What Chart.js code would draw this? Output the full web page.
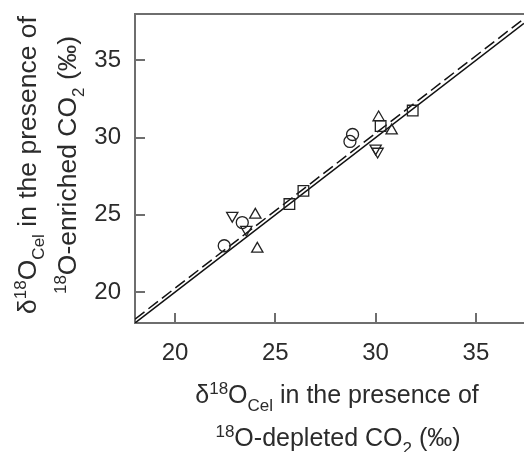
<!DOCTYPE html>
<html>
<head>
<meta charset="utf-8">
<script src="https://cdn.jsdelivr.net/npm/chart.js@4"></script>
<style>
    html, body { margin: 0; padding: 0; background: #fff; }
    canvas { display: block; }
</style>
</head>
<body>
<canvas id="grafica" width="524" height="452"></canvas>
<script>
// Datos (eje x: CO2 empobrecido, eje y: CO2 enriquecido)
const circulosX = [22.45, 23.35, 28.72, 28.85];
const circulosY = [23.0, 24.5, 29.75, 30.2];

const cuadradosX = [25.7, 26.4, 30.25, 31.85];
const cuadradosY = [25.7, 26.55, 30.75, 31.75];

const triangulosX = [24.0, 24.1, 30.15, 30.8];
const triangulosY = [25.0, 22.8, 31.3, 30.45];

const invertidosX = [22.85, 23.55, 30.0, 30.1];
const invertidosY = [24.95, 24.05, 29.3, 29.1];

// Recta 1:1 y recta ajustada
const rectaX = [18, 37.4];
const rectaUnoY = [18, 37.4];
const rectaAjusteY = [18.25, 37.7];

const ticksX = [20, 25, 30, 35];
const ticksY = [20, 25, 30, 35];

const FUENTE = "'Liberation Sans', Arial, Helvetica, sans-serif";
const TEXTO = "#2b2b2b";
const EJE = "#6e6e6e";

function puntos(xs, ys) {
    return xs.map((x, i) => ({ x: x, y: ys[i] }));
}

function serie(xs, ys, estilo, rotacion, radio) {
    return {
        type: "scatter",
        data: puntos(xs, ys),
        pointStyle: estilo,
        rotation: rotacion,
        pointRadius: radio,
        pointHoverRadius: radio,
        pointBorderColor: "#222",
        pointBackgroundColor: "rgba(0,0,0,0)",
        pointBorderWidth: 1.3
    };
}

// Texto con superíndices y subíndices
function textoRico(ctx, partes, x, y, tam) {
    const chico = Math.round(tam * 0.66);
    let ancho = 0;
    partes.forEach(p => {
        ctx.font = (p[1] === "n" ? tam : chico) + "px " + FUENTE;
        ancho += ctx.measureText(p[0]).width;
    });
    let cx = x - ancho / 2;
    partes.forEach(p => {
        ctx.font = (p[1] === "n" ? tam : chico) + "px " + FUENTE;
        let dy = 0;
        if (p[1] === "sup") dy = -tam * 0.36;
        if (p[1] === "sub") dy = tam * 0.3;
        ctx.fillText(p[0], cx, y + dy);
        cx += ctx.measureText(p[0]).width;
    });
}

const tituloA = [["δ", "n"], ["18", "sup"], ["O", "n"], ["Cel", "sub"], [" in the presence of", "n"]];
const tituloX = [["18", "sup"], ["O-depleted CO", "n"], ["2", "sub"], [" (‰)", "n"]];
const tituloY = [["18", "sup"], ["O-enriched CO", "n"], ["2", "sub"], [" (‰)", "n"]];

const marcos = {
    id: "marcos",
    afterDraw(chart) {
        const { ctx, chartArea, scales } = chart;
        ctx.save();

        // Borde superior y marcas hacia dentro
        ctx.strokeStyle = EJE;
        ctx.lineWidth = 2;
        ctx.beginPath();
        ctx.moveTo(chartArea.left, chartArea.top);
        ctx.lineTo(chartArea.right, chartArea.top);
        ticksX.forEach(v => {
            const px = Math.round(scales.x.getPixelForValue(v));
            ctx.moveTo(px, chartArea.bottom);
            ctx.lineTo(px, chartArea.bottom - 10);
        });
        ticksY.forEach(v => {
            const py = Math.round(scales.y.getPixelForValue(v));
            ctx.moveTo(chartArea.left, py);
            ctx.lineTo(chartArea.left + 10, py);
        });
        ctx.stroke();

        // Títulos de los ejes
        ctx.fillStyle = TEXTO;
        ctx.textBaseline = "alphabetic";
        ctx.textAlign = "left";
        textoRico(ctx, tituloA, 337, 403, 25);
        textoRico(ctx, tituloX, 338, 446, 25);

        ctx.translate(0, 165);
        ctx.rotate(-Math.PI / 2);
        textoRico(ctx, tituloA, 0, 36, 26.5);
        textoRico(ctx, tituloY, 0, 76, 26.5);

        ctx.restore();
    }
};

new Chart(document.getElementById("grafica"), {
    type: "scatter",
    data: {
        datasets: [
            serie(circulosX, circulosY, "circle", 0, 6),
            serie(cuadradosX, cuadradosY, "rect", 0, 7.5),
            serie(triangulosX, triangulosY, "triangle", 0, 6.5),
            serie(invertidosX, invertidosY, "triangle", 180, 6.5),
            {
                type: "line",
                data: puntos(rectaX, rectaUnoY),
                borderColor: "#111",
                borderWidth: 1.5,
                pointRadius: 0,
                fill: false
            },
            {
                type: "line",
                data: puntos(rectaX, rectaAjusteY),
                borderColor: "#111",
                borderWidth: 1.5,
                borderDash: [12, 5],
                pointRadius: 0,
                fill: false
            }
        ]
    },
    options: {
        responsive: false,
        animation: false,
        layout: {
            autoPadding: false,
            padding: { top: 14, right: 0, left: 0, bottom: 0 }
        },
        plugins: {
            legend: { display: false },
            tooltip: { enabled: false }
        },
        scales: {
            x: {
                type: "linear",
                min: 18,
                max: 37.4,
                afterBuildTicks: s => { s.ticks = ticksX.map(v => ({ value: v })); },
                afterFit: s => {
                    s.height = 129;
                    s.paddingLeft = 0;
                    s.paddingRight = 0;
                },
                grid: { display: false, drawTicks: false },
                border: { display: true, color: EJE, width: 2 },
                ticks: {
                    padding: 16,
                    color: TEXTO,
                    font: { family: FUENTE, size: 24 }
                }
            },
            y: {
                type: "linear",
                min: 18,
                max: 38,
                afterBuildTicks: s => { s.ticks = ticksY.map(v => ({ value: v })); },
                afterFit: s => {
                    s.width = 135;
                    s.paddingTop = 0;
                    s.paddingBottom = 0;
                },
                grid: { display: false, drawTicks: false },
                border: { display: true, color: EJE, width: 2 },
                ticks: {
                    padding: 14,
                    color: TEXTO,
                    font: { family: FUENTE, size: 24 }
                }
            }
        }
    },
    plugins: [marcos]
});
</script>
</body>
</html>
